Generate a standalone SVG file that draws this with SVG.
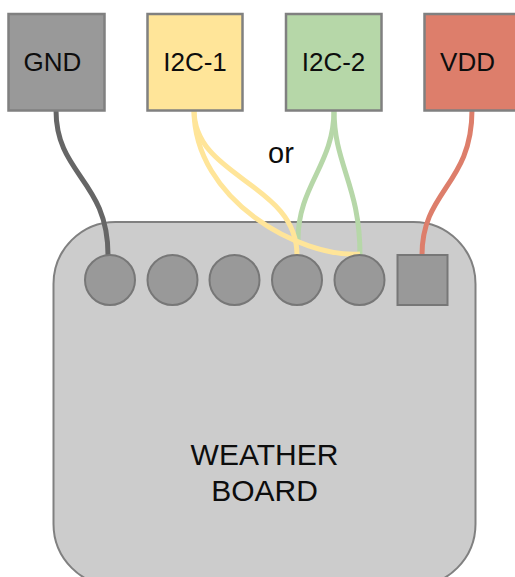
<svg xmlns="http://www.w3.org/2000/svg" width="515" height="577" viewBox="0 0 515 577">
<style>
.lbl{font-family:"Liberation Sans",Arial,sans-serif;font-size:26px;fill:#0d0d0d;text-anchor:middle}
.pin{fill:#999;stroke:#777;stroke-width:2}
.box{stroke:#808080;stroke-width:2.5}
.w{fill:none;stroke-width:5}
</style>
<rect width="515" height="577" fill="#fff"/>
<g id="board">
<rect x="53.5" y="222" width="422" height="364" rx="62" ry="62" fill="#ccc" stroke="#808080" stroke-width="2"/>
<text class="lbl" x="264.500" y="465" style="font-size:30px">WEATHER</text>
<text class="lbl" x="264.500" y="501" style="font-size:30px">BOARD</text>
</g>
<g id="connectors">
<path class="w" stroke="#666" d="M56 110C56 175 108 180 108 255"/>
<path class="w" stroke="#b6d7a8" d="M334 110C334 165 298 185 298 240"/>
<path class="w" stroke="#b6d7a8" d="M334 110C334 165 360 185 360 255"/>
<path class="w" stroke="#ffe599" d="M194 110C194 178 297 183 297 255"/>
<path class="w" stroke="#ffe599" d="M194 110C194 200 300 258 360 254"/>
<path class="w" stroke="#dd7e6b" d="M472 110C472 185 422 190 422 255"/>
</g>
<g id="pin-1"><circle class="pin" cx="110" cy="280" r="25"/></g>
<g id="pin-2"><circle class="pin" cx="172.500" cy="280" r="25"/></g>
<g id="pin-3"><circle class="pin" cx="234.500" cy="280" r="25"/></g>
<g id="pin-4"><circle class="pin" cx="297" cy="280" r="25"/></g>
<g id="pin-5"><circle class="pin" cx="359.500" cy="280" r="25"/></g>
<g id="pin-6"><rect class="pin" x="397.500" y="255" width="50" height="50"/></g>
<g id="gnd"><rect class="box" x="8.500" y="14" width="96" height="96.500" fill="#999"/><text class="lbl" x="52.500" y="71">GND</text></g>
<g id="i2c-1"><rect class="box" x="147.500" y="14" width="95" height="96.500" fill="#ffe599"/><text class="lbl" x="195" y="71">I2C-1</text></g>
<g id="i2c-2"><rect class="box" x="286" y="14" width="95.500" height="96.500" fill="#b6d7a8"/><text class="lbl" x="333.500" y="71">I2C-2</text></g>
<g id="vdd"><rect class="box" x="424.500" y="14" width="96" height="96.500" fill="#dd7e6b"/><text class="lbl" x="467.500" y="71">VDD</text></g>
<text id="or" class="lbl" x="281" y="163" style="font-size:29px">or</text>
</svg>
